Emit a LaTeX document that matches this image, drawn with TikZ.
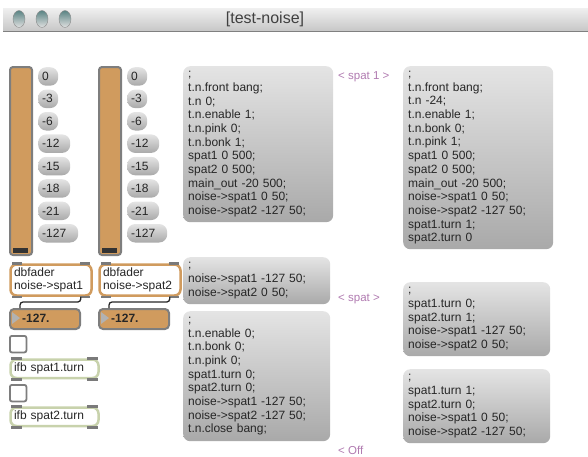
\documentclass[tikz,border=0pt]{standalone}
\usepackage{fontspec}
\setmainfont{Liberation Sans}

\definecolor{faderorange}{HTML}{D09B5E}
\definecolor{framegrey}{HTML}{7E7E7E}
\definecolor{msgtop}{HTML}{E4E4E4}
\definecolor{msgbottom}{HTML}{A9A9A9}
\definecolor{notepurple}{HTML}{B07AB0}
\definecolor{ifbgreen}{HTML}{C8D2AC}
\definecolor{portgrey}{HTML}{7A7A7A}

\tikzset{
  patchfont/.style={font=\fontsize{12}{13.7}\selectfont},
  msg/.style={patchfont, anchor=north west, rounded corners=7pt,
    top color=msgtop, bottom color=msgbottom, align=left,
    inner xsep=5pt, inner ysep=0pt, text=black!85},
  level/.style={msg, rounded corners=8pt, inner xsep=4pt, minimum height=18.5},
  fader/.style={anchor=north west, draw=framegrey, line width=2pt, fill=faderorange,
    rounded corners=3pt, minimum width=22, minimum height=188, inner sep=0pt},
  object/.style={patchfont, anchor=north west, line width=2.5pt, fill=white,
    rounded corners=6pt, align=left, inner xsep=3.5pt, inner ysep=0pt, text=black!85},
  numbox/.style={anchor=north west, draw=framegrey, line width=2pt, fill=faderorange,
    rounded corners=4pt, minimum width=70, minimum height=20, inner sep=0pt},
  toggle/.style={anchor=north west, draw=framegrey, line width=1.8pt, fill=white,
    rounded corners=2pt, minimum size=16.5, inner sep=0pt},
  port/.style={portgrey, line width=2.5pt},
  cord/.style={black!85, line width=1.3pt, rounded corners=3pt},
  note/.style={anchor=west, font=\fontsize{11.5}{12}\selectfont, text=notepurple, inner sep=0pt}
}

\begin{document}
\begin{tikzpicture}[x=1pt, y=-1pt]
  \useasboundingbox (0,0) rectangle (588,456);

  % window title bar
  \shade[top color=black!6, bottom color=black!22] (3,8) rectangle (588,31);
  \draw[black!50, line width=1.5pt] (3,31.5) -- (588,31.5);
  \foreach \bx in {19,42,65}
    \path[top color=black!45!cyan!30!gray, bottom color=black!12, draw=black!45]
      (\bx,19) ellipse [x radius=6, y radius=8.5];
  \node[anchor=center, inner sep=0pt, font=\fontsize{16}{16}\selectfont, text=black!75]
    (title) at (265,19) {[test-noise]};

  % two faders, each with its level presets and dbfader chain
  \foreach \c/\dx in {1/0, 2/89} {
    \node[fader] (fader\c) at (9+\dx,66) {};
    \fill[black!80] (13+\dx,248) rectangle (28+\dx,253);
    \foreach \val/\tw [count=\i from 0] in
        {0/12, -3/12, -6/12, -12/24, -15/24, -18/24, -21/24, -127/32}
      \node[level, text width=\tw pt] (lvl\c-\i) at (38+\dx,{67+22.4*\i}) {\val};

    \node[object, draw=faderorange, text width=74pt, minimum height=31]
      (db\c) at (9.25+\dx,263.25) {dbfader\\noise->spat\c};
    \node[numbox] (num\c) at (9+\dx,308) {};
    \fill[black!30] (12+\dx,312) -- (12+\dx,324) -- (20+\dx,318) -- cycle;
    \node[anchor=west, inner sep=0pt, font=\bfseries\fontsize{12}{12}\selectfont,
      text=black!85] (numval\c) at (22+\dx,318.5) {-127.};

    % inlets and outlets
    \foreach \a/\s in {north west/3, north east/-13, south west/3, south east/-13}
      \draw[port] ([xshift=\s pt]db\c.\a) -- ++(10pt,0pt);

    % patch cord into the number box
    \draw[cord] ([xshift=-12pt]db\c.south east)
      |- ([xshift=11pt,yshift=6pt]num\c.north west) -- ([xshift=11pt]num\c.north west);
  }

  % toggles feeding the ifb objects
  \node[toggle] (tog1) at (9,335) {};
  \node[toggle] (tog2) at (9,384) {};
  \node[object, draw=ifbgreen, text width=81pt, minimum height=18.5]
    (ifb1) at (9.25,358.25) {ifb spat1.turn};
  \node[object, draw=ifbgreen, text width=81pt, minimum height=18.5]
    (ifb2) at (9.25,406.25) {ifb spat2.turn};
  \foreach \n in {ifb1, ifb2}
    \foreach \a/\s in {north west/2, north east/-13, south west/2, south east/-13}
      \draw[port] ([xshift=\s pt]\n.\a) -- ++(11pt,0pt);

  % message boxes
  \node[msg, text width=140pt, minimum height=156] (front1) at (183,66)
    {;\\t.n.front bang;\\t.n 0;\\t.n.enable 1;\\t.n.pink 0;\\t.n.bonk 1;\\
     spat1 0 500;\\spat2 0 500;\\main\_out -20 500;\\noise->spat1 0 50;\\
     noise->spat2 -127 50;};
  \node[msg, text width=140pt, minimum height=183] (front2) at (403,66)
    {;\\t.n.front bang;\\t.n -24;\\t.n.enable 1;\\t.n.bonk 0;\\t.n.pink 1;\\
     spat1 0 500;\\spat2 0 500;\\main\_out -20 500;\\noise->spat1 0 50;\\
     noise->spat2 -127 50;\\spat1.turn 1;\\spat2.turn 0};
  \node[msg, text width=137pt, minimum height=47] (swap) at (183,257)
    {;\\noise->spat1 -127 50;\\noise->spat2 0 50;};
  \node[msg, text width=137pt, minimum height=130] (off) at (183,311)
    {;\\t.n.enable 0;\\t.n.bonk 0;\\t.n.pink 0;\\spat1.turn 0;\\spat2.turn 0;\\
     noise->spat1 -127 50;\\noise->spat2 -127 50;\\t.n.close bang;};
  \node[msg, text width=137pt, minimum height=74] (turn2) at (403,282)
    {;\\spat1.turn 0;\\spat2.turn 1;\\noise->spat1 -127 50;\\noise->spat2 0 50;};
  \node[msg, text width=137pt, minimum height=74] (turn1) at (403,369)
    {;\\spat1.turn 1;\\spat2.turn 0;\\noise->spat1 0 50;\\noise->spat2 -127 50;};

  % comments
  \node[note] (spatone) at (338,77) {< spat 1 >};
  \node[note] (spatswap) at (338,299) {< spat >};
  \node[note] (offnote) at (338,450) {< Off};
\end{tikzpicture}
\end{document}
